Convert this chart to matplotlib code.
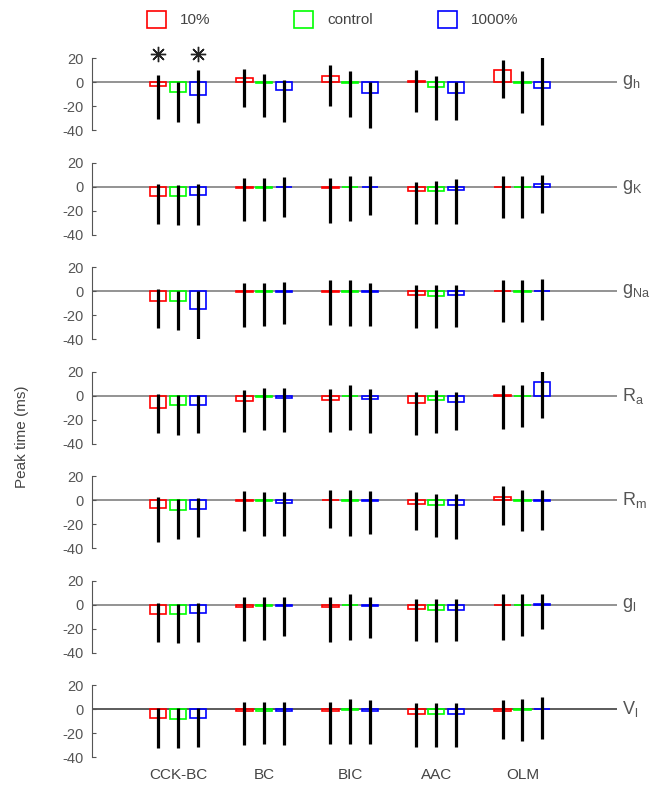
import matplotlib
matplotlib.use("Agg")
import matplotlib.pyplot as plt
from matplotlib.patches import Rectangle

plt.rcParams['font.family'] = ['Liberation Sans', 'DejaVu Sans']
plt.rcParams['axes.unicode_minus'] = False

cells = ["CCK-BC", "BC", "BIC", "AAC", "OLM"]
params = ["g_h", "g_K", "g_{Na}", "R_a", "R_m", "g_l", "V_l"]
conditions = ["10%", "control", "1000%"]
cond_colors = ["#ff0000", "#00ff00", "#0000ff"]

# mean change in peak time (ms): [param][cell][condition]
means = [
    [[-3, -8, -11], [3, -1, -7], [5, -1, -9], [1, -4, -9], [10, -1, -5]],
    [[-7.5, -8, -7], [-1, -1, -0.5], [-1.5, -0.5, -0.5], [-4, -3.5, -3], [-0.5, -0.5, 2]],
    [[-8, -8, -15], [-1, -1, -1], [-1, -1, -1], [-3.5, -4, -3], [0, -0.5, 0.5]],
    [[-10, -8, -8], [-4.5, -1, -2], [-3.5, -0.5, -3], [-6.5, -4, -5.5], [0.5, -0.5, 11.5]],
    [[-6.5, -8, -7.5], [-1, -1, -2], [0.5, -0.5, -1], [-3, -4, -4], [2.5, -0.5, -0.5]],
    [[-7.5, -8, -7], [-2, -1, -1], [-2, -0.5, -1], [-3.5, -4, -4.5], [-0.5, -0.5, 0.5]],
    [[-7.5, -8, -7.5], [-1.5, -1, -1], [-1, -0.5, -1], [-4, -4, -4], [-1, -0.5, 0.5]],
]
# upper end of range
highs = [
    [[6, 0, 10], [11, 7, 2], [14, 9, 0], [10, 5, 0], [18, 9, 20.5]],
    [[2, 1.5, 2], [7, 7, 8], [7, 9, 9], [4, 5, 6.5], [9, 9, 10]],
    [[2, 0.5, 0], [7, 7, 8], [9, 9, 7], [5, 5, 5.5], [9, 9, 10]],
    [[1, 0.5, 0.5], [5, 6.5, 6.5], [5.5, 9, 5.5], [3, 5, 3], [9, 9, 20.5]],
    [[3, 1, 2], [8, 7, 7], [8.5, 8.5, 8], [7, 5, 5], [12, 8.5, 8.5]],
    [[1.5, 1, 1.5], [6.5, 6.5, 6.5], [6.5, 9, 6.5], [5, 5, 5], [9, 9, 9]],
    [[1.5, 1, 1.5], [6.5, 6.5, 6.5], [6.5, 8.5, 8], [5, 5, 5], [8, 8.5, 10]],
]
# lower end of range
lows = [
    [[-31, -33, -34], [-21, -29, -33], [-20, -29, -38], [-25, -32, -32], [-13, -26, -36]],
    [[-31, -32, -32], [-29, -29, -25], [-30, -29, -24], [-31, -31, -31], [-26, -26, -22]],
    [[-31, -32, -41], [-30, -29, -27], [-28, -29, -29], [-31, -31, -30], [-26, -26, -24]],
    [[-31, -32.5, -31], [-30, -29, -30], [-30, -29, -31], [-32.5, -31, -29], [-27.5, -26, -19]],
    [[-34.5, -32, -31], [-26, -29.5, -29.5], [-23, -29.5, -28], [-25, -31, -32], [-21, -26, -25]],
    [[-31, -32, -31], [-30, -29, -26], [-31, -29, -28], [-30, -31, -30], [-29, -26, -20]],
    [[-32, -32, -31], [-30, -28.5, -30], [-28.5, -28.5, -28.5], [-31, -31, -31], [-25, -26, -25]],
]
# significance marks (first panel only)
significant = [[True, False, True], [False] * 3, [False] * 3, [False] * 3, [False] * 3]

offsets = [-0.23, 0.0, 0.23]
box_w = 0.19

fig = plt.figure(figsize=(6.51, 7.88), dpi=100)

for k, pname in enumerate(params):
    bottom = 1 - (130 + 104.55 * k) / 788
    ax = fig.add_axes([92 / 651, bottom, 525 / 651, 72 / 788])
    ax.axhline(0, color="0.5" if k < 6 else "0.25", lw=1.2, zorder=1)
    for g in range(len(cells)):
        for c in range(3):
            x = g + 1 + offsets[c]
            ax.bar(x, means[k][g][c], width=box_w, fill=False,
                   edgecolor=cond_colors[c], lw=1.2, zorder=2)
            ax.vlines(x, lows[k][g][c], highs[k][g][c], color="k", lw=2.3, zorder=3)
            if k == 0 and significant[g][c]:
                ax.plot(x, 23, marker=(8, 2, 0), ms=11, mew=1.0, color="#222222",
                        clip_on=False, zorder=4)
    ax.set_xlim(0, 6.1)
    ax.set_ylim(-40, 20)
    ax.set_yticks([20, 0, -20, -40])
    ax.tick_params(axis="y", direction="in", length=3, pad=6, labelsize=10.5,
                   colors="#555555")
    for s in ["top", "right", "bottom"]:
        ax.spines[s].set_visible(False)
    ax.spines["left"].set_color("#555555")
    ax.patch.set_visible(False)
    if k == len(params) - 1:
        ax.set_xticks(range(1, len(cells) + 1))
        ax.set_xticklabels(cells, fontsize=11, color="#444444")
        ax.tick_params(axis="x", length=0, pad=8)
    else:
        ax.set_xticks([])
    ax.text(1.01, 0, r"$\mathregular{" + pname + "}$", transform=ax.get_yaxis_transform(),
            fontsize=13, color="#555555", va="center", ha="left")

fig.text(22 / 651, 1 - 437 / 788, "Peak time (ms)", rotation=90, fontsize=11,
         color="#444444", ha="center", va="center")

# legend along the top
leg_x = [147, 294, 438]
for lab, col, lx in zip(conditions, cond_colors, leg_x):
    fig.add_artist(Rectangle((lx / 651, 1 - 28 / 788), 19 / 651, 17 / 788,
                             transform=fig.transFigure, fill=False, edgecolor=col, lw=1.2))
    fig.text((lx + 33) / 651, 1 - 19.5 / 788, lab, fontsize=11, color="#444444",
             va="center", ha="left")

plt.savefig("out.png", dpi=100)
